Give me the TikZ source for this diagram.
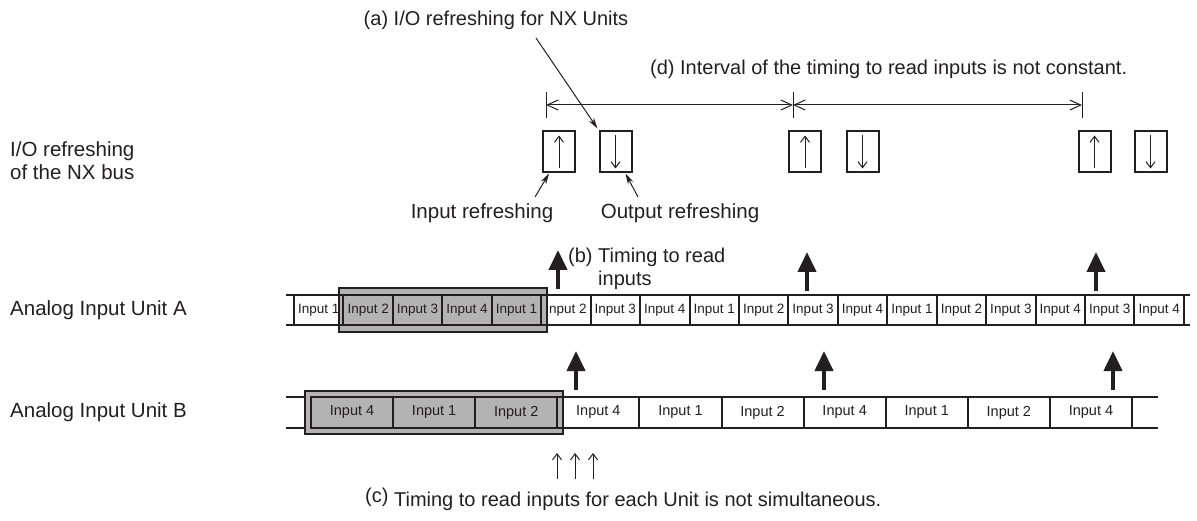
\documentclass[tikz,border=0pt]{standalone}
\usepackage{fontspec}
\setmainfont{Liberation Sans}
\usetikzlibrary{arrows.meta}
\definecolor{ink}{HTML}{231F20}
\definecolor{shade}{HTML}{B3B3B3}
\begin{document}
\begin{tikzpicture}[x=1pt,y=-1pt,
  lbl/.style={font=\fontsize{20}{23}\selectfont, text=ink, inner sep=0pt},
  cellA/.style={draw=ink, line width=2pt, minimum width=49.44pt, minimum height=30pt, inner sep=0pt, font=\fontsize{13.5}{14}\selectfont, text=ink},
  cellB/.style={draw=ink, line width=2pt, minimum width=82.1pt, minimum height=31pt, inner sep=0pt, font=\fontsize{14.5}{15}\selectfont, text=ink},
  graybox/.style={draw=ink, fill=shade, line width=2pt, inner sep=0pt},
  rowline/.style={draw=ink, line width=1.5pt},
  refbox/.style={draw=ink, line width=2pt, minimum width=32pt, minimum height=41pt, inner sep=0pt},
  thinup/.style={-{Straight Barb[length=6pt,width=9pt]}, line width=1pt, draw=ink},
  bigarrow/.style={-{Triangle[length=20pt,width=18pt]}, line width=4pt, draw=ink},
  dimarrow/.style={{Straight Barb[length=11pt,width=10pt]}-{Straight Barb[length=11pt,width=10pt]}, line width=1pt, draw=ink},
  tick/.style={line width=1pt, draw=ink},
  pointer/.style={-{Stealth[length=11pt,width=6pt]}, line width=1pt, draw=ink}
]
\useasboundingbox (0,0) rectangle (1197,521);

% ---- left labels
\node[lbl, font=\fontsize{20.5}{23}\selectfont, anchor=west, align=left] (lio) at (10,161) {I/O refreshing\\of the NX bus};
\node[lbl, font=\fontsize{20.5}{23}\selectfont, anchor=west] (lA) at (10,310) {Analog Input Unit A};
\node[lbl, font=\fontsize{20.5}{23}\selectfont, anchor=west] (lB) at (10,412) {Analog Input Unit B};

% ---- top labels
\node[lbl] (la) at (496,20) {(a) I/O refreshing for NX Units};
\node[lbl, anchor=west] (ld) at (650,69) {(d) Interval of the timing to read inputs is not constant.};
\node[lbl, font=\fontsize{20.5}{23}\selectfont] (lir) at (482,213) {Input refreshing};
\node[lbl, font=\fontsize{20.5}{23}\selectfont] (lor) at (680,213) {Output refreshing};
\node[lbl, anchor=north west, align=left] (lb) at (568,248) {(b) Timing to read\\\hphantom{(b) }inputs};
\node[lbl, anchor=west] (lc) at (365,499) {\raisebox{4pt}{(c)} Timing to read inputs for each Unit is not simultaneous.};

% ---- refresh boxes
\node[refbox] (u1) at (559,152) {};
\node[refbox] (d1) at (615.5,152) {};
\node[refbox] (u2) at (805,152) {};
\node[refbox] (d2) at (862.5,152) {};
\node[refbox] (u3) at (1094.5,152) {};
\node[refbox] (d3) at (1150.5,152) {};
\foreach \n in {u1,u2,u3} \draw[thinup] ([yshift=5pt]\n.south) -- ([yshift=-5pt]\n.north);
\foreach \n in {d1,d2,d3} \draw[thinup] ([yshift=-5pt]\n.north) -- ([yshift=5pt]\n.south);

% ---- dimension line
\coordinate (m1) at (546,105);
\coordinate (m2) at (793,105);
\coordinate (m3) at (1082,105);
\foreach \m in {m1,m2,m3} \draw[tick] ([yshift=13pt]\m) -- ([yshift=-13pt]\m);
\draw[dimarrow] (m1) -- (m2);
\draw[dimarrow] (m2) -- (m3);

% ---- pointers
\coordinate (pa) at (536,38);
\draw[pointer] (pa) -- ([shift={(-1pt,2pt)}]d1.north west);
\coordinate (pir) at (535,197);
\draw[pointer] (pir) -- ([xshift=7pt]u1.south west);
\coordinate (por) at (638,197);
\draw[pointer] (por) -- ([xshift=-7pt]d1.south east);

% ---- row A
\draw[rowline] (286,295) -- (1190,295);
\draw[rowline] (286,325) -- (1190,325);
\node[graybox, minimum width=208pt, minimum height=44pt] (gA) at (443,310) {};
\foreach \i/\t in {1/1,2/2,3/3,4/4,5/1,6/2,7/3,8/4,9/1,10/2,11/3,12/4,13/1,14/2,15/3,16/4,17/3,18/4}
  \node[cellA] (a\i) at ({294+49.44*(\i-0.5)},310) {Input \t};

% ---- row B
\draw[rowline] (286,397) -- (1158,397);
\draw[rowline] (286,428) -- (1158,428);
\node[graybox, minimum width=258pt, minimum height=43pt] (gB) at (434,412.5) {};
\foreach \i/\t in {1/4,2/1,3/2,4/4,5/1,6/2,7/4,8/1,9/2,10/4}
  \node[cellB] (b\i) at ({311+82.1*(\i-0.5)},412.5) {Input \t};

% ---- read timing arrows
\coordinate (ra1) at (558,289); \coordinate (ra1t) at (558,250);
\coordinate (ra2) at (807,291); \coordinate (ra2t) at (807,252);
\coordinate (ra3) at (1096,291); \coordinate (ra3t) at (1096,252);
\draw[bigarrow] (ra1) -- (ra1t);
\draw[bigarrow] (ra2) -- (ra2t);
\draw[bigarrow] (ra3) -- (ra3t);
\coordinate (rb1) at (576,390); \coordinate (rb1t) at (576,351);
\coordinate (rb2) at (824,390); \coordinate (rb2t) at (824,351);
\coordinate (rb3) at (1113,390); \coordinate (rb3t) at (1113,351);
\draw[bigarrow] (rb1) -- (rb1t);
\draw[bigarrow] (rb2) -- (rb2t);
\draw[bigarrow] (rb3) -- (rb3t);

% ---- (c) small arrows
\foreach \x [count=\k] in {557,575,593} {
  \coordinate (cs\k) at (\x,479);
  \coordinate (ct\k) at (\x,453);
  \draw[thinup] (cs\k) -- (ct\k);
}
\end{tikzpicture}
\end{document}
